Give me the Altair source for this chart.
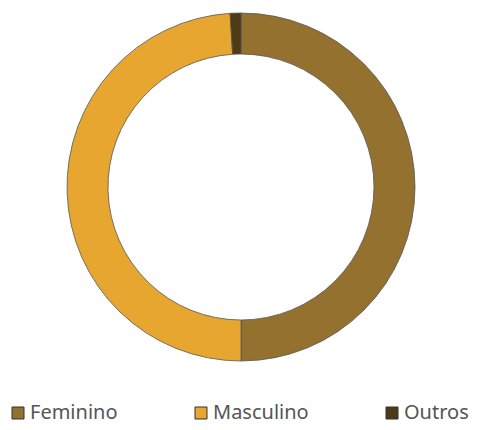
import altair as alt
import pandas as pd

categories = ["Feminino", "Masculino", "Outros"]
values = [50.0, 49.0, 1.0]
colors = ["#94712e", "#e6a630", "#4e3a16"]

df = pd.DataFrame({"categoria": categories, "valor": values, "ordem": list(range(len(categories)))})

chart = alt.Chart(df).mark_arc(
    outerRadius=174, innerRadius=133, stroke="#555555", strokeWidth=0.8
).encode(
    theta=alt.Theta("valor:Q", stack=True),
    order=alt.Order("ordem:Q"),
    color=alt.Color(
        "categoria:N",
        sort=categories,
        scale=alt.Scale(domain=categories, range=colors),
        legend=alt.Legend(
            title=None,
            orient="none",
            legendX=0,
            legendY=395,
            direction="horizontal",
            columns=3,
            columnPadding=73,
            symbolType="square",
            symbolSize=144,
            symbolStrokeColor="#333333",
            symbolStrokeWidth=1,
            symbolOffset=0,
            labelFont="Noto Sans",
            labelFontSize=20,
            labelColor="#555555",
            labelOffset=2,
            padding=0,
        ),
    ),
).properties(
    width=466, height=358, padding=0
).configure_view(stroke=None)

chart.save("out.html", embed_options={"renderer": "svg", "actions": False})
